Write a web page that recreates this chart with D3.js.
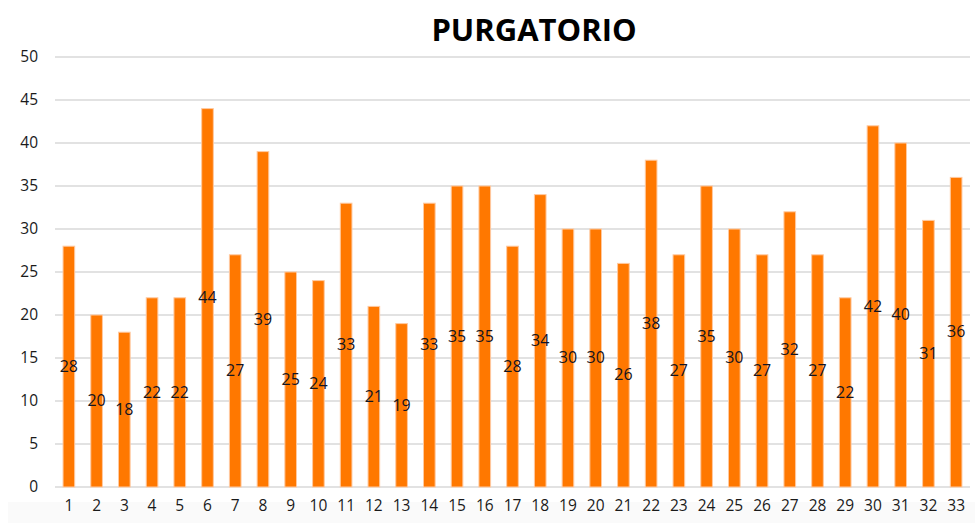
<!DOCTYPE html>
<style>
    body { margin: 0; background: #fff; }
    text {
        font-family: "Open Sans", "Noto Sans", sans-serif;
        fill: #222;
    }
    .tick text { font-size: 15.5px; fill: #1a1a1a; }
    .val { font-size: 16px; text-anchor: middle; dominant-baseline: middle; fill: #141420; }
    .title { font-size: 31px; font-weight: 700; text-anchor: middle; fill: #000; }
</style>
<body>
<script src="https://cdn.jsdelivr.net/npm/d3@7"></script>
<script>
// chart data
var categories = d3.range(1, 34).map(String);
var values = [28, 20, 18, 22, 22, 44, 27, 39, 25, 24, 33, 21, 19, 33, 35, 35, 28, 34,
              30, 30, 26, 38, 27, 35, 30, 27, 32, 27, 22, 42, 40, 31, 36];
var yTicks = [0, 5, 10, 15, 20, 25, 30, 35, 40, 45, 50];

var width = 975, height = 523;

var svg = d3.select("body").append("svg")
    .attr("width", width)
    .attr("height", height);

// faint grey band under the axis, like the screenshot
svg.append("rect")
    .attr("x", 8).attr("y", 502)
    .attr("width", width - 8).attr("height", 21)
    .attr("fill", "#fafafa");

var x = d3.scaleBand().domain(categories).range([55, 970]).paddingInner(0.58).paddingOuter(0.29);
var y = d3.scaleLinear().domain([0, 50]).range([487, 57]);

// gridlines
svg.append("g").selectAll("line").data(yTicks).enter().append("line")
    .attr("x1", 55).attr("x2", 970)
    .attr("y1", function(d) { return y(d); })
    .attr("y2", function(d) { return y(d); })
    .attr("stroke", "#d9d9d9")
    .attr("stroke-width", 1.5);

// y axis labels
var yAxis = svg.append("g")
    .attr("transform", "translate(38,0)")
    .call(d3.axisLeft(y).tickValues(yTicks).tickSize(0).tickPadding(0));
yAxis.select(".domain").remove();

// x axis labels
var xAxis = svg.append("g")
    .attr("transform", "translate(0,497)")
    .call(d3.axisBottom(x).tickSize(0).tickPadding(3));
xAxis.select(".domain").remove();

// bars
svg.append("g").selectAll("rect").data(values).enter().append("rect")
    .attr("x", function(d, i) { return x(categories[i]); })
    .attr("width", x.bandwidth())
    .attr("y", function(d) { return y(d); })
    .attr("height", function(d) { return y(0) - y(d); })
    .attr("fill", "#ff7800")
    .attr("stroke", "#ffc9a0")
    .attr("stroke-width", 1);

// value labels at bar centre
svg.append("g").selectAll("text").data(values).enter().append("text")
    .attr("class", "val")
    .attr("x", function(d, i) { return x(categories[i]) + x.bandwidth() / 2; })
    .attr("y", function(d) { return (y(d) + y(0)) / 2 + 1; })
    .text(function(d) { return d; });

// title
svg.append("text")
    .attr("class", "title")
    .attr("x", 534)
    .attr("y", 41)
    .text("PURGATORIO");
</script>
